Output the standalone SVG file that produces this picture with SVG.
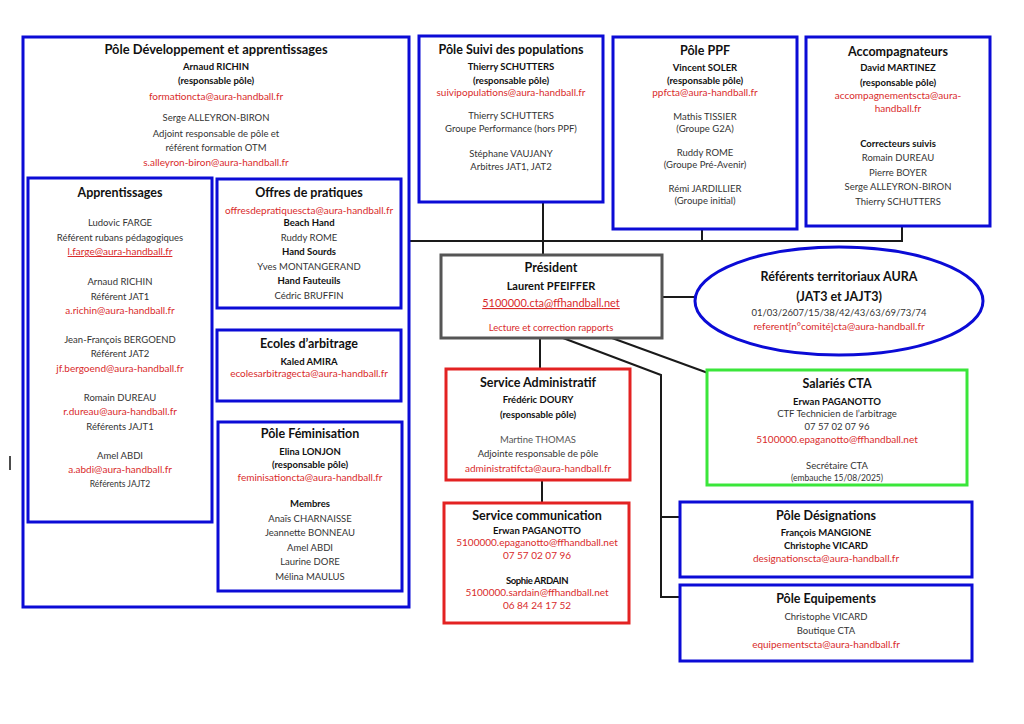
<svg xmlns="http://www.w3.org/2000/svg" width="1024" height="724" viewBox="0 0 1024 724">
<style>
text{font-family:Lato,"Liberation Sans",sans-serif;text-anchor:middle}
.h{font-size:12.5px;font-weight:bold;fill:#111}
.b{font-size:9.5px;font-weight:bold;fill:#111}
.n{font-size:9.5px;fill:#333}
.e{font-size:10px;fill:#d92b2b}
.s{font-size:8.5px;fill:#333}
.box{fill:#fff;stroke-width:3}
.blue{stroke:#0b0bd6}
.red{stroke:#e32222}
.green{stroke:#3ae63a}
.gray{stroke:#555}
.conn{stroke:#1a1a1a;stroke-width:2;fill:none}
</style>
<rect width="1024" height="724" fill="#fff"/>
<line x1="10" y1="456" x2="10" y2="470" stroke="#111" stroke-width="1.5"/>

<g id="connectors">
<polyline class="conn" points="409,241 902,241 902,226"/>
<line class="conn" x1="702" y1="229" x2="702" y2="241"/>
<line class="conn" x1="543" y1="202" x2="543" y2="255"/>
<line class="conn" x1="662" y1="297" x2="696" y2="297"/>
<line class="conn" x1="540" y1="338" x2="540" y2="369"/>
<line class="conn" x1="542" y1="480" x2="542" y2="503"/>
<polyline class="conn" points="563,338 661,375 661,597 680,597"/>
<line class="conn" x1="661" y1="517" x2="680" y2="517"/>
<line class="conn" x1="612" y1="338" x2="708" y2="373"/>
</g>

<g id="pole-developpement">
<rect class="box blue" x="23" y="37" width="386" height="570"/>
<text class="h" x="216" y="54" style="font-size:12.9px">Pôle Développement et apprentissages</text>
<text class="b" x="216" y="70">Arnaud RICHIN</text>
<text class="b" x="216" y="84">(responsable pôle)</text>
<text class="e" x="216" y="100">formationcta@aura-handball.fr</text>
<text class="n" x="216" y="121">Serge ALLEYRON-BIRON</text>
<text class="n" x="216" y="137">Adjoint responsable de pôle et</text>
<text class="n" x="216" y="151">référent formation OTM</text>
<text class="e" x="216" y="166">s.alleyron-biron@aura-handball.fr</text>
</g>

<g id="apprentissages">
<rect class="box blue" x="28" y="178" width="184" height="344"/>
<text class="h" x="120" y="197">Apprentissages</text>
<text class="n" x="120" y="226">Ludovic FARGE</text>
<text class="n" x="120" y="241">Référent rubans pédagogiques</text>
<text class="e" x="120" y="255" text-decoration="underline">l.farge@aura-handball.fr</text>
<text class="n" x="120" y="285">Arnaud RICHIN</text>
<text class="n" x="120" y="300">Référent  JAT1</text>
<text class="e" x="120" y="314">a.richin@aura-handball.fr</text>
<text class="n" x="120" y="343">Jean-François BERGOEND</text>
<text class="n" x="120" y="357">Référent  JAT2</text>
<text class="e" x="120" y="372">jf.bergoend@aura-handball.fr</text>
<text class="n" x="120" y="401">Romain DUREAU</text>
<text class="e" x="120" y="415">r.dureau@aura-handball.fr</text>
<text class="n" x="120" y="430">Référents JAJT1</text>
<text class="n" x="120" y="459">Amel ABDI</text>
<text class="e" x="120" y="473">a.abdi@aura-handball.fr</text>
<text class="s" x="120" y="487">Référents JAJT2</text>
</g>

<g id="offres-pratiques">
<rect class="box blue" x="217" y="179" width="184" height="129"/>
<text class="h" x="309" y="197">Offres de pratiques</text>
<text class="e" x="309" y="214">offresdepratiquescta@aura-handball.fr</text>
<text class="b" x="309" y="226">Beach Hand</text>
<text class="n" x="309" y="241">Ruddy ROME</text>
<text class="b" x="309" y="255">Hand Sourds</text>
<text class="n" x="309" y="270">Yves MONTANGERAND</text>
<text class="b" x="309" y="284">Hand Fauteuils</text>
<text class="n" x="309" y="299">Cédric BRUFFIN</text>
</g>

<g id="ecoles-arbitrage">
<rect class="box blue" x="217" y="330" width="184" height="71"/>
<text class="h" x="309" y="348">Ecoles d’arbitrage</text>
<text class="b" x="309" y="365">Kaled AMIRA</text>
<text class="e" x="309" y="377">ecolesarbitragecta@aura-handball.fr</text>
</g>

<g id="pole-feminisation">
<rect class="box blue" x="218" y="422" width="184" height="169"/>
<text class="h" x="310" y="438">Pôle Féminisation</text>
<text class="b" x="310" y="455">Elina LONJON</text>
<text class="b" x="310" y="468">(responsable pôle)</text>
<text class="e" x="310" y="481">feminisationcta@aura-handball.fr</text>
<text class="b" x="310" y="507">Membres</text>
<text class="n" x="310" y="522">Anaïs CHARNAISSE</text>
<text class="n" x="310" y="536">Jeannette BONNEAU</text>
<text class="n" x="310" y="551">Amel ABDI</text>
<text class="n" x="310" y="565">Laurine DORE</text>
<text class="n" x="310" y="580">Mélina MAULUS</text>
</g>

<g id="pole-suivi">
<rect class="box blue" x="419" y="36" width="184" height="166"/>
<text class="h" x="511" y="54">Pôle Suivi des populations</text>
<text class="b" x="511" y="70">Thierry SCHUTTERS</text>
<text class="b" x="511" y="84">(responsable pôle)</text>
<text class="e" x="511" y="96">suivipopulations@aura-handball.fr</text>
<text class="n" x="511" y="119">Thierry SCHUTTERS</text>
<text class="n" x="511" y="132">Groupe Performance (hors PPF)</text>
<text class="n" x="511" y="157">Stéphane VAUJANY</text>
<text class="n" x="511" y="170">Arbitres JAT1, JAT2</text>
</g>

<g id="pole-ppf">
<rect class="box blue" x="613" y="37" width="184" height="192"/>
<text class="h" x="705" y="55">Pôle PPF</text>
<text class="b" x="705" y="71">Vincent SOLER</text>
<text class="b" x="705" y="84">(responsable pôle)</text>
<text class="e" x="705" y="96">ppfcta@aura-handball.fr</text>
<text class="n" x="705" y="120">Mathis TISSIER</text>
<text class="n" x="705" y="132">(Groupe G2A)</text>
<text class="n" x="705" y="156">Ruddy ROME</text>
<text class="n" x="705" y="168">(Groupe Pré-Avenir)</text>
<text class="n" x="705" y="192">Rémi JARDILLIER</text>
<text class="n" x="705" y="204">(Groupe initial)</text>
</g>

<g id="accompagnateurs">
<rect class="box blue" x="806" y="37" width="184" height="189"/>
<text class="h" x="898" y="56">Accompagnateurs</text>
<text class="b" x="898" y="71">David MARTINEZ</text>
<text class="b" x="898" y="86">(responsable pôle)</text>
<text class="e" x="898" y="99">accompagnementscta@aura-</text>
<text class="e" x="898" y="112">handball.fr</text>
<text class="b" x="898" y="147">Correcteurs suivis</text>
<text class="n" x="898" y="161">Romain DUREAU</text>
<text class="n" x="898" y="176">Pierre BOYER</text>
<text class="n" x="898" y="190">Serge ALLEYRON-BIRON</text>
<text class="n" x="898" y="205">Thierry SCHUTTERS</text>
</g>

<g id="president">
<rect class="box gray" x="441" y="255" width="221" height="83"/>
<text class="h" x="551" y="272">Président</text>
<text class="b" x="551" y="290" style="font-size:11px">Laurent PFEIFFER</text>
<text class="e" x="551" y="307" style="font-size:11px" text-decoration="underline">5100000.cta@ffhandball.net</text>
<text class="e" x="551" y="331" style="font-size:9.5px">Lecture et correction rapports</text>
</g>

<g id="referents-territoriaux">
<ellipse cx="839" cy="301" rx="144" ry="54" fill="#fff" stroke="#0b0bd6" stroke-width="3"/>
<text class="h" x="839" y="281">Référents territoriaux AURA</text>
<text class="h" x="839" y="301">(JAT3 et JAJT3)</text>
<text class="n" x="839" y="316">01/03/2607/15/38/42/43/63/69/73/74</text>
<text class="e" x="839" y="330">referent[n°comité]cta@aura-handball.fr</text>
</g>

<g id="salaries-cta">
<rect class="box green" x="707" y="370" width="260" height="115"/>
<text class="h" x="837" y="388">Salariés CTA</text>
<text class="b" x="837" y="405">Erwan PAGANOTTO</text>
<text class="n" x="837" y="417">CTF Technicien de l’arbitrage</text>
<text class="n" x="837" y="430">07 57 02 07 96</text>
<text class="e" x="837" y="443">5100000.epaganotto@ffhandball.net</text>
<text class="n" x="837" y="469">Secrétaire CTA</text>
<text class="s" x="837" y="481">(embauche 15/08/2025)</text>
</g>

<g id="service-administratif">
<rect class="box red" x="446" y="369" width="184" height="111"/>
<text class="h" x="538" y="387">Service Administratif</text>
<text class="b" x="538" y="403">Frédéric DOURY</text>
<text class="b" x="538" y="418">(responsable pôle)</text>
<text class="n" x="538" y="443" style="fill:#555">Martine THOMAS</text>
<text class="n" x="538" y="457">Adjointe responsable de pôle</text>
<text class="e" x="538" y="472">administratifcta@aura-handball.fr</text>
</g>

<g id="service-communication">
<rect class="box red" x="444" y="503" width="185" height="120"/>
<text class="h" x="537" y="520">Service communication</text>
<text class="b" x="537" y="534">Erwan PAGANOTTO</text>
<text class="e" x="537" y="546">5100000.epaganotto@ffhandball.net</text>
<text class="e" x="537" y="559">07 57 02 07 96</text>
<text class="b" x="537" y="584" style="letter-spacing:-0.4px">Sophie ARDAIN</text>
<text class="e" x="537" y="596">5100000.sardain@ffhandball.net</text>
<text class="e" x="537" y="609">06 84 24 17 52</text>
</g>

<g id="pole-designations">
<rect class="box blue" x="680" y="502" width="292" height="75"/>
<text class="h" x="826" y="520">Pôle Désignations</text>
<text class="b" x="826" y="536">François MANGIONE</text>
<text class="b" x="826" y="549">Christophe VICARD</text>
<text class="e" x="826" y="562">designationscta@aura-handball.fr</text>
</g>

<g id="pole-equipements">
<rect class="box blue" x="680" y="585" width="292" height="76"/>
<text class="h" x="826" y="603">Pôle Equipements</text>
<text class="n" x="826" y="620">Christophe VICARD</text>
<text class="n" x="826" y="634">Boutique CTA</text>
<text class="e" x="826" y="648">equipementscta@aura-handball.fr</text>
</g>
</svg>
